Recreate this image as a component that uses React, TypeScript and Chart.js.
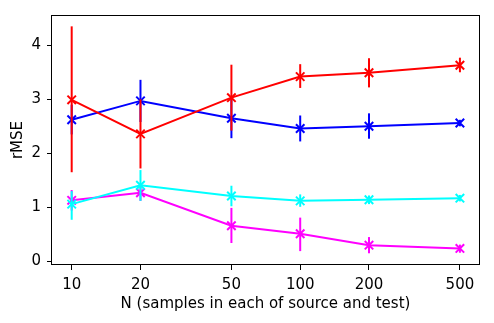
import React, { useEffect, useRef } from 'react';
import { Chart, registerables } from 'chart.js';

Chart.register(...registerables);

const nValues = [10, 20, 50, 100, 200, 500];
const xTicks = [10, 20, 50, 100, 200, 500];
const yTicks = [0, 1, 2, 3, 4];

const redMean = [2.99, 2.36, 3.03, 3.42, 3.49, 3.63];
const redLow = [1.65, 1.72, 2.42, 3.21, 3.22, 3.5];
const redHigh = [4.35, 3.0, 3.64, 3.65, 3.76, 3.77];

const blueMean = [2.62, 2.97, 2.65, 2.46, 2.5, 2.56];
const blueLow = [2.35, 2.58, 2.28, 2.22, 2.27, 2.5];
const blueHigh = [2.9, 3.36, 3.02, 2.7, 2.74, 2.62];

const cyanMean = [1.06, 1.41, 1.21, 1.12, 1.14, 1.17];
const cyanLow = [0.77, 1.12, 1.02, 1.01, 1.06, 1.11];
const cyanHigh = [1.3, 1.69, 1.4, 1.24, 1.22, 1.23];

const magentaMean = [1.13, 1.27, 0.66, 0.51, 0.3, 0.24];
const magentaLow = [0.94, 1.12, 0.34, 0.19, 0.15, 0.16];
const magentaHigh = [1.32, 1.4, 0.99, 0.81, 0.45, 0.31];

const FONT = 'DejaVu Sans';
const FSIZE = 15;

function makeSeries(label: string, color: string, mean: number[], low: number[], high: number[]) {
  return {
    label,
    data: nValues.map((n, i) => ({ x: n, y: mean[i] })),
    errLow: low,
    errHigh: high,
    borderColor: color,
    backgroundColor: color,
    borderWidth: 2,
    pointStyle: 'crossRot',
    pointRadius: 6,
    pointBorderWidth: 2,
    pointBorderColor: color,
    pointHoverRadius: 6,
    tension: 0,
    fill: false,
  } as any;
}

const errorBarPlugin = {
  id: 'errorBars',
  beforeDatasetDraw(chart: any, args: any) {
    const ds = chart.data.datasets[args.index];
    const xs = chart.scales.x;
    const ys = chart.scales.y;
    const ctx = chart.ctx;
    ctx.save();
    ctx.strokeStyle = ds.borderColor;
    ctx.lineWidth = 2;
    ctx.lineCap = 'butt';
    ds.data.forEach((p: any, i: number) => {
      const px = xs.getPixelForValue(p.x);
      ctx.beginPath();
      ctx.moveTo(px, ys.getPixelForValue(ds.errLow[i]));
      ctx.lineTo(px, ys.getPixelForValue(ds.errHigh[i]));
      ctx.stroke();
    });
    ctx.restore();
  },
};

const framePlugin = {
  id: 'frame',
  afterDatasetsDraw(chart: any) {
    const { left, top, right, bottom } = chart.chartArea;
    const ctx = chart.ctx;
    ctx.save();
    ctx.strokeStyle = '#000';
    ctx.lineWidth = 1;
    ctx.strokeRect(Math.round(left) - 0.5, Math.round(top) + 0.5, Math.round(right - left) + 1, Math.round(bottom - top) - 1);
    ctx.restore();
  },
};

export default function App() {
  const ref = useRef<HTMLCanvasElement | null>(null);

  useEffect(() => {
    document.body.style.margin = '0';
    if (!ref.current) return;
    const chart = new Chart(ref.current, {
      type: 'line',
      data: {
        datasets: [
          makeSeries('red', '#ff0000', redMean, redLow, redHigh),
          makeSeries('blue', '#0000ff', blueMean, blueLow, blueHigh),
          makeSeries('cyan', '#00ffff', cyanMean, cyanLow, cyanHigh),
          makeSeries('magenta', '#ff00ff', magentaMean, magentaLow, magentaHigh),
        ],
      },
      options: {
        animation: false,
        responsive: false,
        devicePixelRatio: 1,
        layout: { padding: { top: 11, right: 15, left: 0, bottom: 0 } },
        plugins: { legend: { display: false }, tooltip: { enabled: false } },
        scales: {
          x: {
            type: 'logarithmic',
            min: 8.2,
            max: 606,
            afterBuildTicks: (scale: any) => {
              scale.ticks = xTicks.map((v) => ({ value: v }));
            },
            afterFit: (scale: any) => {
              scale.height = 58;
            },
            border: { display: false },
            grid: { drawOnChartArea: false, drawTicks: true, tickLength: 5, tickColor: '#000', tickWidth: 1 },
            ticks: {
              autoSkip: false,
              maxRotation: 0,
              padding: 6,
              color: '#000',
              font: { family: FONT, size: FSIZE },
              callback: (v: any) => String(v),
            },
            title: {
              display: true,
              text: 'N (samples in each of source and test)',
              color: '#000',
              font: { family: FONT, size: FSIZE },
              padding: { top: 0, bottom: 10 },
            },
          },
          y: {
            type: 'linear',
            min: -0.067,
            max: 4.56,
            afterBuildTicks: (scale: any) => {
              scale.ticks = yTicks.map((v) => ({ value: v }));
            },
            afterFit: (scale: any) => {
              scale.width = 52;
            },
            border: { display: false },
            grid: { drawOnChartArea: false, drawTicks: true, tickLength: 5, tickColor: '#000', tickWidth: 1 },
            ticks: {
              padding: 6,
              color: '#000',
              font: { family: FONT, size: FSIZE },
              callback: (v: any) => String(v),
            },
            title: {
              display: true,
              text: 'rMSE',
              color: '#000',
              font: { family: FONT, size: FSIZE },
              padding: { top: 9, bottom: 0 },
            },
          },
        },
      } as any,
      plugins: [errorBarPlugin, framePlugin],
    });
    return () => chart.destroy();
  }, []);

  return (
    <div style={{ width: 494, height: 323, background: '#fff' }}>
      <canvas ref={ref} width={494} height={323} style={{ display: 'block' }} />
    </div>
  );
}
